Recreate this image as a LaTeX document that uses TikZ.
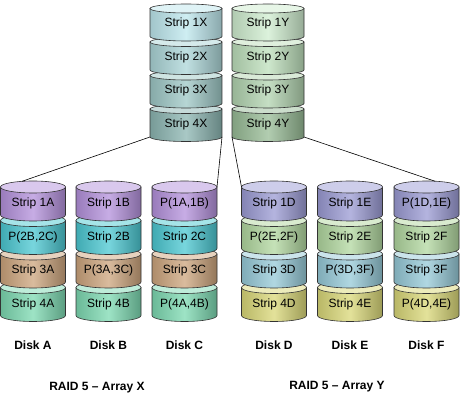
\documentclass[tikz,border=0pt]{standalone}
\usepackage{fontspec}
\setmainfont{Liberation Sans}
\usetikzlibrary{positioning}

\definecolor{xone}{RGB}{190,232,238}
\definecolor{xtwo}{RGB}{172,214,216}
\definecolor{xthree}{RGB}{158,200,198}
\definecolor{xfour}{RGB}{140,182,178}
\definecolor{yone}{RGB}{208,238,208}
\definecolor{ytwo}{RGB}{190,224,188}
\definecolor{ythree}{RGB}{178,212,176}
\definecolor{yfour}{RGB}{152,188,150}
\definecolor{purp}{RGB}{180,145,220}
\definecolor{teal}{RGB}{75,200,210}
\definecolor{tan}{RGB}{205,165,125}
\definecolor{mint}{RGB}{125,218,178}
\definecolor{peri}{RGB}{155,155,212}
\definecolor{pgreen}{RGB}{178,216,160}
\definecolor{lblue}{RGB}{150,202,216}
\definecolor{yell}{RGB}{218,216,120}

\tikzset{
  cyl/.style={draw=black!80, line width=0.6pt},
  striptext/.style={font=\fontsize{12}{14}\selectfont, text height=8.5pt, text depth=2.5pt},
  disklabel/.style={font=\fontsize{12}{14}\selectfont\bfseries},
  link/.style={draw=black, line width=0.6pt},
}

% name, cx, top, rx, ry, height, pitch, segments (bottom first)
\newcommand\drawdisk[8]{%
  \foreach \i/\col/\txt in {#8} {
    \pgfmathsetmacro\ty{#3+#7*\i}
    \shadedraw[cyl, left color=\col!85!black, right color=\col!72!black, middle color=\col!75!white]
      ({#2-#4},\ty) -- ({#2-#4},{\ty+#6}) arc[start angle=180, end angle=0, x radius=#4, y radius=#5]
      -- ({#2+#4},\ty) -- cycle;
    \filldraw[cyl, fill=\col!50!white] (#2,\ty) ellipse[x radius=#4, y radius=#5];
    \node[striptext] (#1-\i) at (#2,{\ty+#5+#6/2-3}) {\txt};
  }
  \coordinate (#1-nw) at ({#2+#4*cos(250)},{#3+#5*sin(250)});
  \coordinate (#1-ne) at ({#2+#4*cos(285)},{#3+#5*sin(285)});
  \coordinate (#1-w) at ({#2-#4},#3);
  \coordinate (#1-e) at ({#2+#4},#3);
  \coordinate (#1-sw) at ({#2-#4},{#3+3*#7+#6});
  \coordinate (#1-se) at ({#2+#4},{#3+3*#7+#6});
}

\begin{document}
\begin{tikzpicture}[x=1pt, y=-1pt]
  \useasboundingbox[fill=white] (0,0) rectangle (461,406);

  % the two arrays
  \drawdisk{X}{186}{8.5}{36}{4.5}{28}{33.5}{3/xfour/Strip 4X, 2/xthree/Strip 3X, 1/xtwo/Strip 2X, 0/xone/Strip 1X}
  \drawdisk{Y}{268}{8.5}{36}{4.5}{28}{33.5}{3/yfour/Strip 4Y, 2/ythree/Strip 3Y, 1/ytwo/Strip 2Y, 0/yone/Strip 1Y}

  % disks of array X
  \drawdisk{A}{33}{187}{32.5}{6}{28}{33.5}{3/mint/Strip 4A, 2/tan/Strip 3A, {1/teal/P(2B,2C)}, 0/purp/Strip 1A}
  \drawdisk{B}{108.5}{187}{32.5}{6}{28}{33.5}{3/mint/Strip 4B, {2/tan/P(3A,3C)}, 1/teal/Strip 2B, 0/purp/Strip 1B}
  \drawdisk{C}{184.5}{187}{32.5}{6}{28}{33.5}{{3/mint/P(4A,4B)}, 2/tan/Strip 3C, 1/teal/Strip 2C, {0/purp/P(1A,1B)}}

  % disks of array Y
  \drawdisk{D}{274}{187}{32.5}{6}{28}{33.5}{3/yell/Strip 4D, 2/lblue/Strip 3D, {1/pgreen/P(2E,2F)}, 0/peri/Strip 1D}
  \drawdisk{E}{350}{187}{32.5}{6}{28}{33.5}{3/yell/Strip 4E, {2/lblue/P(3D,3F)}, 1/pgreen/Strip 2E, 0/peri/Strip 1E}
  \drawdisk{F}{426.5}{187}{32.5}{6}{28}{33.5}{{3/yell/P(4D,4E)}, 2/lblue/Strip 3F, 1/pgreen/Strip 2F, {0/peri/P(1D,1E)}}

  \path[link] (X-sw) edge (A-nw)
              (X-se) edge (C-e)
              (Y-sw) edge (D-w)
              (Y-se) edge (F-ne);

  \node (labA) [below of=A-3, node distance=41pt, disklabel] {Disk A};
  \node (labB) [below of=B-3, node distance=41pt, disklabel] {Disk B};
  \node (labC) [below of=C-3, node distance=41pt, disklabel] {Disk C};
  \node (labD) [below of=D-3, node distance=41pt, disklabel] {Disk D};
  \node (labE) [below of=E-3, node distance=41pt, disklabel] {Disk E};
  \node (labF) [below of=F-3, node distance=41pt, disklabel] {Disk F};

  \node (arrX) [disklabel] at (97,388) {RAID 5 -- Array X};
  \node (arrY) [disklabel] at (337,387) {RAID 5 -- Array Y};
\end{tikzpicture}
\end{document}
